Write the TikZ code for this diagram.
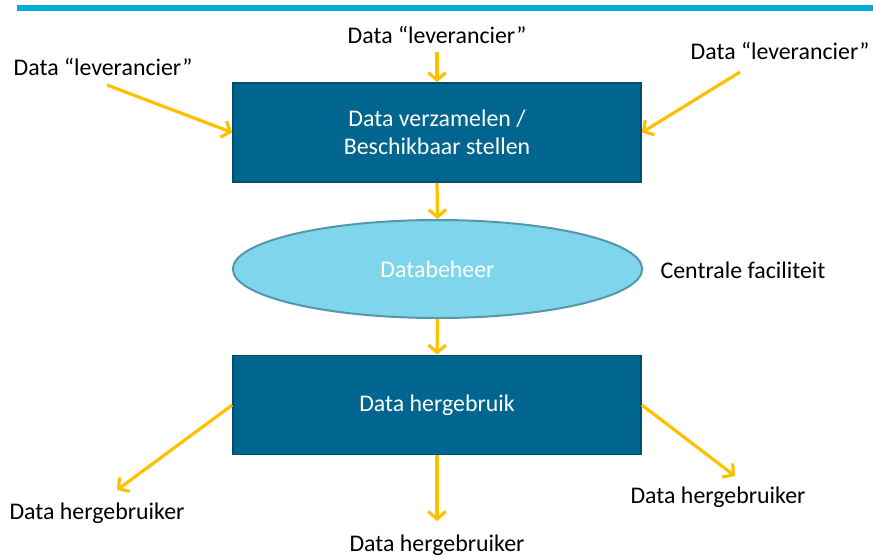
\documentclass[tikz,border=0pt]{standalone}
\usepackage{fontspec}
\setmainfont{Carlito}
\usetikzlibrary{arrows.meta,shapes.geometric}
\definecolor{topline}{RGB}{0,174,219}
\definecolor{boxfill}{RGB}{0,102,143}
\definecolor{boxedge}{RGB}{0,78,110}
\definecolor{ellfill}{RGB}{127,214,236}
\definecolor{elledge}{RGB}{84,150,172}
\definecolor{arrowc}{RGB}{255,192,0}
\tikzset{
  txt/.style={font=\fontsize{17.9}{21}\selectfont},
  blockbox/.style={txt, draw=boxedge, line width=1.2pt, fill=boxfill, text=white, minimum width=306pt, minimum height=74.5pt, inner sep=0pt, align=center},
  ellbox/.style={txt, ellipse, draw=elledge, line width=1.5pt, fill=ellfill, text=white, minimum width=307pt, minimum height=73.5pt, inner sep=0pt},
  lbl/.style={txt, text=black, inner sep=0pt},
  flow/.style={draw=arrowc, line width=2.4pt, -{Straight Barb[length=5.5pt,width=13pt]}}
}
\begin{document}
\begin{tikzpicture}[x=0.75pt,y=-0.75pt]
\useasboundingbox (0,0) rectangle (873,558);
\fill[topline] (17,5) rectangle (873,11);
\node[blockbox] (verz) at (437,132.5) {Data verzamelen /\\Beschikbaar stellen};
\node[ellbox] (beheer) at (437.5,269) {Databeheer};
\node[blockbox] (herg) at (437,405) {Data hergebruik};
\node[lbl] (lev1) at (437,35) {Data “leverancier”};
\node[lbl] (lev2) at (103,67) {Data “leverancier”};
\node[lbl] (lev3) at (780,51) {Data “leverancier”};
\node[lbl] (cf) at (743,270) {Centrale faciliteit};
\node[lbl] (hg1) at (97,513) {Data hergebruiker};
\node[lbl] (hg2) at (437,545) {Data hergebruiker};
\node[lbl] (hg3) at (718,497) {Data hergebruiker};
\coordinate (a1s) at (437,52);
\coordinate (a2s) at (107,85);
\coordinate (a3s) at (740,72);
\coordinate (b1e) at (117,490);
\coordinate (b2e) at (437,521);
\coordinate (b3e) at (735,476);
\draw[flow] (a1s) -- (verz.north);
\draw[flow] (a2s) -- (verz.west);
\draw[flow] (a3s) -- (verz.east);
\draw[flow] (verz.south) -- (beheer.north);
\draw[flow] (beheer.south) -- (herg.north);
\draw[flow] (herg.west) -- (b1e);
\draw[flow] (herg.south) -- (b2e);
\draw[flow] (herg.east) -- (b3e);
\end{tikzpicture}
\end{document}
